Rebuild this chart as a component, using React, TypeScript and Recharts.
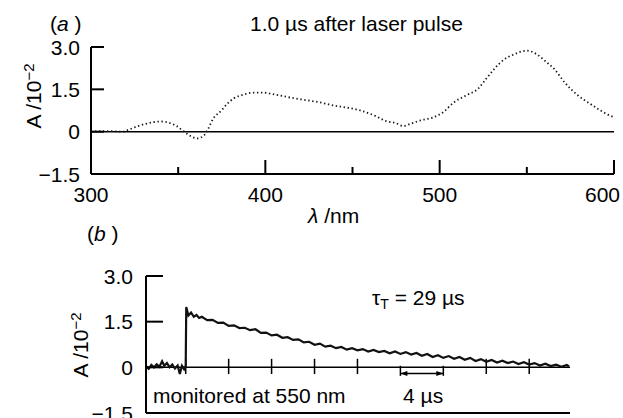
import React from "react";
import { LineChart, Line, XAxis, YAxis, ReferenceLine } from "recharts";

// (a) transient absorption spectrum, 1.0 us after the laser pulse
const wavelengths = [
  300, 310, 318, 322, 327, 333, 340, 344, 349, 353, 357, 361, 365, 367, 370, 375, 378, 382, 388, 393,
  399, 406, 415, 423, 431, 439, 446, 454, 463, 469, 475, 479, 483, 489, 496, 502, 508, 515, 522, 527,
  532, 537, 542, 550, 556, 561, 566, 572, 579, 586, 592, 598, 600,
];
const absorbance = [
  0.0, 0.02, 0.0, 0.08, 0.2, 0.3, 0.36, 0.33, 0.2, 0.02, -0.15, -0.24, -0.12, 0.08, 0.45, 0.76, 0.98, 1.18, 1.32, 1.38,
  1.38, 1.31, 1.2, 1.12, 1.04, 0.93, 0.86, 0.76, 0.56, 0.38, 0.3, 0.2, 0.27, 0.4, 0.5, 0.69, 1.03, 1.28, 1.52, 1.9,
  2.27, 2.56, 2.72, 2.87, 2.73, 2.48, 2.2, 1.72, 1.3, 1.0, 0.76, 0.56, 0.52,
];
const wlTicks = [300, 350, 400, 450, 500, 550, 600];
const absTicks = [-1.5, 0, 1.5, 3.0];

// (b) decay trace monitored at 550 nm
const times = [
  -3.7, -3.45, -3.2, -2.95, -2.7, -2.45, -2.2, -2.0, -1.75, -1.5, -1.25, -1.0, -0.75, -0.55, -0.35, -0.15, 0.0,
  0.05, 0.25, 0.5, 0.75, 1.0, 1.25, 1.5, 2.0, 2.5, 3.0, 3.5, 4.0, 4.5, 5.0, 5.5, 6.0, 6.5, 7.0, 7.5, 8.0, 8.5,
  9.0, 9.5, 10.0, 10.5, 11.0, 11.5, 12.0, 12.5, 13.0, 13.5, 14.0, 14.5, 15.0, 15.5, 16.0, 16.5, 17.0, 17.5,
  18.0, 18.5, 19.0, 19.5, 20.0, 20.5, 21.0, 21.5, 22.0, 22.5, 23.0, 23.5, 24.0, 24.5, 25.0, 25.5, 26.0, 26.5,
  27.0, 27.5, 28.0, 28.5, 29.0, 29.5, 30.0, 30.5, 31.0, 31.5, 32.0, 32.5, 33.0, 33.5, 34.0, 34.5, 35.0, 35.5, 35.7,
];
const decay = [
  0.04, -0.05, 0.08, 0.0, 0.1, 0.02, 0.2, 0.05, 0.14, 0.0, 0.09, -0.04, 0.06, -0.22, 0.05, -0.06, 0.05,
  1.98, 1.7, 1.8, 1.66, 1.72, 1.62, 1.66, 1.55, 1.56, 1.46, 1.47, 1.36, 1.38, 1.29, 1.3, 1.22, 1.25, 1.13, 1.14, 1.05, 1.07,
  0.97, 0.99, 0.9, 0.92, 0.82, 0.84, 0.74, 0.78, 0.68, 0.71, 0.63, 0.67, 0.58, 0.63, 0.56, 0.6, 0.52, 0.57,
  0.5, 0.54, 0.46, 0.52, 0.44, 0.5, 0.42, 0.47, 0.38, 0.44, 0.34, 0.4, 0.31, 0.37, 0.28, 0.34, 0.25, 0.31,
  0.21, 0.27, 0.18, 0.24, 0.16, 0.22, 0.14, 0.19, 0.11, 0.17, 0.09, 0.14, 0.06, 0.12, 0.04, 0.09, 0.02, 0.08, 0.03,
];
const timeTicks = [0, 4, 8, 12, 16, 20, 24, 28, 32];
const barStart = 20;
const barEnd = 24;

const spectrum = wavelengths.map((wl, i) => ({ wl, a: absorbance[i] }));
const trace = times.map((t, i) => ({ t, a: decay[i] }));

const FONT = '"Liberation Sans", Arial, sans-serif';
const FS = 21;

const fmtAbs = (v: number) => (v === 0 ? "0" : v < 0 ? "\u2212" + Math.abs(v).toFixed(1) : v.toFixed(1));

function WavelengthTick(props: any) {
  const { x, y, payload } = props;
  const v = payload.value;
  const major = v % 100 === 0;
  const last = v === 600;
  return (
    <g>
      <line x1={x} y1={y} x2={x} y2={y - (major ? 14 : 7)} stroke="#000" strokeWidth={2} />
      {major && (
        <text
          x={last ? x + 6 : x}
          y={y + 28}
          textAnchor={last ? "end" : "middle"}
          fontSize={FS}
          fontFamily={FONT}
          fill="#000"
        >
          {v}
        </text>
      )}
    </g>
  );
}

function makeAbsTick(len: number, gap: number) {
  return (props: any) => {
    const { x, y, payload } = props;
    return (
      <g>
        <line x1={x} y1={y} x2={x + len} y2={y} stroke="#000" strokeWidth={2} />
        <text x={x - gap} y={y} dy="0.36em" textAnchor="end" fontSize={FS} fontFamily={FONT} fill="#000">
          {fmtAbs(payload.value)}
        </text>
      </g>
    );
  };
}

function ArrowShape(props: any) {
  const { x1, y1, x2, y2 } = props;
  return (
    <g>
      <line x1={x1} y1={y1} x2={x2} y2={y2} stroke="#000" strokeWidth={1.5} />
      <polygon points={`${x1},${y1} ${x1 + 7},${y1 - 2.5} ${x1 + 7},${y1 + 2.5}`} fill="#000" />
      <polygon points={`${x2},${y2} ${x2 - 7},${y2 - 2.5} ${x2 - 7},${y2 + 2.5}`} fill="#000" />
    </g>
  );
}

const abs = (style: React.CSSProperties): React.CSSProperties => ({
  position: "absolute",
  whiteSpace: "nowrap",
  fontSize: FS,
  lineHeight: 1,
  color: "#000",
  ...style,
});

function YTitle({ x, y }: { x: number; y: number }) {
  return (
    <div style={abs({ left: x, top: y, transform: "translate(-50%, -50%) rotate(-90deg)" })}>
      A /10<sup style={{ fontSize: 15, verticalAlign: "0.45em", lineHeight: 0 }}>{"\u22122"}</sup>
    </div>
  );
}

export default function App() {
  return (
    <div
      style={{
        position: "absolute",
        left: 0,
        top: 0,
        width: 623,
        height: 418,
        overflow: "hidden",
        background: "#fff",
        fontFamily: FONT,
      }}
    >
      <div style={{ position: "absolute", left: 0, top: 0 }}>
        <LineChart width={623} height={230} data={spectrum} margin={{ top: 47, right: 9, bottom: 26, left: 31 }}>
          <XAxis
            type="number"
            dataKey="wl"
            domain={[300, 600]}
            ticks={wlTicks}
            interval={0}
            tickSize={0}
            tickMargin={0}
            tickLine={false}
            tick={WavelengthTick}
            axisLine={{ stroke: "#000", strokeWidth: 2 }}
            height={30}
          />
          <YAxis
            type="number"
            domain={[-1.5, 3]}
            ticks={absTicks}
            interval={0}
            tickSize={0}
            tickMargin={0}
            tickLine={false}
            tick={makeAbsTick(13, 11)}
            axisLine={{ stroke: "#000", strokeWidth: 2 }}
            width={60}
          />
          <ReferenceLine y={0} stroke="#000" strokeWidth={1.5} />
          <Line
            type="monotone"
            dataKey="a"
            stroke="#1a1a1a"
            strokeWidth={1.8}
            strokeDasharray="1.4 2.6"
            dot={false}
            isAnimationActive={false}
          />
        </LineChart>
      </div>

      <div style={{ position: "absolute", left: 0, top: 200 }}>
        <LineChart width={623} height={240} data={trace} margin={{ top: 76, right: 53, bottom: 7, left: 86 }}>
          <XAxis
            type="number"
            dataKey="t"
            domain={[-3.7, 35.8]}
            allowDataOverflow
            tick={false}
            tickLine={false}
            axisLine={{ stroke: "#000", strokeWidth: 2 }}
            height={20}
          />
          <YAxis
            type="number"
            domain={[-1.5, 3]}
            ticks={absTicks}
            interval={0}
            tickSize={0}
            tickMargin={0}
            tickLine={false}
            tick={makeAbsTick(17, 13)}
            axisLine={{ stroke: "#000", strokeWidth: 2 }}
            width={60}
          />
          <ReferenceLine y={0} stroke="#000" strokeWidth={1.5} />
          {timeTicks.map((t) => (
            <ReferenceLine
              key={t}
              segment={
                t === barStart || t === barEnd
                  ? [{ x: t, y: 0.05 }, { x: t, y: -0.28 }]
                  : [{ x: t, y: 0.28 }, { x: t, y: -0.22 }]
              }
              stroke="#000"
              strokeWidth={1.5}
            />
          ))}
          <ReferenceLine
            segment={[{ x: barStart, y: -0.2 }, { x: barEnd, y: -0.2 }]}
            shape={ArrowShape}
          />
          <Line
            type="linear"
            dataKey="a"
            stroke="#111"
            strokeWidth={2.2}
            dot={false}
            isAnimationActive={false}
          />
        </LineChart>
      </div>

      <div style={abs({ left: 50, top: 13 })}>
        (<i>a</i> )
      </div>
      <div style={abs({ left: 250, top: 13 })}>1.0 {"\u00b5"}s after laser pulse</div>
      <YTitle x={33} y={96} />
      <div style={abs({ left: 308, top: 205 })}>
        <i>{"\u03bb"}</i> /nm
      </div>

      <div style={abs({ left: 87, top: 223 })}>
        (<i>b</i> )
      </div>
      <YTitle x={80} y={345} />
      <div style={abs({ left: 372, top: 287 })}>
        {"\u03c4"}
        <sub style={{ fontSize: 14, verticalAlign: "-0.25em", lineHeight: 0 }}>T</sub> = 29 {"\u00b5"}s
      </div>
      <div style={abs({ left: 153, top: 385 })}>monitored at 550 nm</div>
      <div style={abs({ left: 403, top: 385 })}>4 {"\u00b5"}s</div>
    </div>
  );
}
